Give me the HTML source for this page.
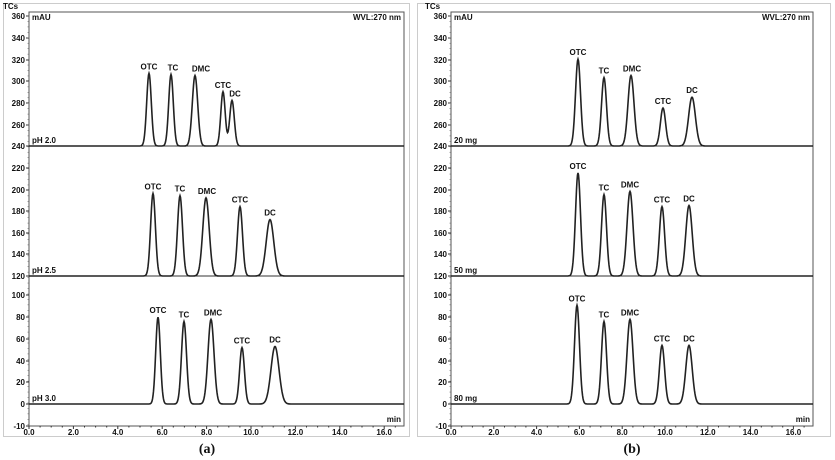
<!DOCTYPE html>
<html><head><meta charset="utf-8"><style>
html,body{margin:0;padding:0;background:#fff;width:835px;height:460px;overflow:hidden}
svg text{font-family:"Liberation Sans",sans-serif;font-weight:bold;fill:#111}
</style></head><body>
<svg id="s" width="835" height="460" xmlns="http://www.w3.org/2000/svg">
<rect x="3.5" y="3.5" width="406" height="433" fill="none" stroke="#ccc"/>
<rect x="417.5" y="3.5" width="413" height="433" fill="none" stroke="#ccc"/>
<g id="g"></g>
<text x="207" y="453" font-size="14" font-family="Liberation Serif" text-anchor="middle" style="font-family:'Liberation Serif',serif">(a)</text>
<text x="632" y="453" font-size="14" text-anchor="middle" style="font-family:'Liberation Serif',serif">(b)</text>
</svg>
<script>
const g=document.getElementById('g');let h='';
function Y(v){return 404-v*1.085;}
function panel(L,R,px,labels,peaks,tag){
  const top=12,bot=426;
  h+=`<rect x="${L}" y="${top}" width="${R-L}" height="${bot-top}" fill="none" stroke="#555" stroke-width="1"/>`;
  h+=`<line x1="${L}" y1="146" x2="${R}" y2="146" stroke="#333"/><line x1="${L}" y1="276" x2="${R}" y2="276" stroke="#333"/>`;
  h+=`<text x="${L-26}" y="9" font-size="8">TCs</text><text x="${L+3}" y="20" font-size="8">mAU</text>`;
  h+=`<text x="${R-3}" y="20" font-size="8" text-anchor="end">WVL:270 nm</text>`;
  h+=`<text x="${R-3}" y="422" font-size="8" text-anchor="end">min</text>`;
  // y ticks
  const yt=[[360,16],[340,38],[320,60],[300,81],[280,103],[260,125],[240,146],[220,168],[200,190],[180,211],[160,233],[140,254],[120,276],[100,295],[80,317],[60,339],[40,361],[20,382],[0,404],[-10,426]];
  for(const [v,y] of yt){h+=`<line x1="${L-3}" y1="${y}" x2="${L}" y2="${y}" stroke="#333"/><text x="${L-4}" y="${y+3}" font-size="8" text-anchor="end">${v}</text>`;}
  for(let y=16;y<426;y+=5.45){h+=`<line x1="${L-1.5}" y1="${y}" x2="${L}" y2="${y}" stroke="#666" stroke-width=".6"/>`;}
  for(let m=0;m<=16.9;m+=0.5){const x=L+m*px;const big=Math.abs(m%2)<0.01;h+=`<line x1="${x}" y1="${bot}" x2="${x}" y2="${bot+(big?3:1.5)}" stroke="#333"/>`;
    if(big)h+=`<text x="${x}" y="435" font-size="8" text-anchor="middle">${m.toFixed(1)}</text>`;}
  peaks.forEach((p,i)=>{
    const base=p.base, by=p.by, sc=p.sc;
    h+=`<text x="${L+3}" y="${by-3}" font-size="8">${tag[i]}</text>`;
    let d='';
    for(let x=L;x<=R;x+=0.5){let v=0;for(const q of p.q){const s=q[2];v+=q[1]*Math.exp(-((x-q[0])**2)/(2*s*s));}
      const y=by-v*sc;d+=(x==L?'M':'L')+x.toFixed(1)+','+y.toFixed(1);}
    h+=`<path d="${d}" fill="none" stroke="#222" stroke-width="1.6"/>`;
    for(const q of p.q){h+=`<text x="${q[0]+(q[3]||0)}" y="${by-q[1]*sc-4}" font-size="8" text-anchor="middle">${q[4]}</text>`;}
  });
  g.innerHTML=h;
}
const sc=1.085;
panel(29,404,22.2,null,[
 {by:146,sc,q:[[149,67,2.3,0,'OTC'],[171,66,2.3,2,'TC'],[195,65,2.7,6,'DMC'],[223,50,2.2,0,'CTC'],[232,42,2.3,3,'DC']]},
 {by:276,sc,q:[[153,76,2.4,0,'OTC'],[180,74,2.5,0,'TC'],[206,72,3.2,1,'DMC'],[240,64,2.5,0,'CTC'],[270,52,3.8,0,'DC']]},
 {by:404,sc,q:[[158,80,2.3,0,'OTC'],[184,76,2.5,0,'TC'],[211,78,3,2,'DMC'],[242,52,2.4,0,'CTC'],[275,53,4,0,'DC']]}
],['pH 2.0','pH 2.5','pH 3.0']);
panel(451,813,21.4,null,[
 {by:146,sc,q:[[578,80,2.5,0,'OTC'],[604,63,2.5,0,'TC'],[631,65,3,1,'DMC'],[663,35,2.6,0,'CTC'],[692,45,3.4,0,'DC']]},
 {by:276,sc,q:[[578,95,2.5,0,'OTC'],[604,75,2.5,0,'TC'],[630,78,3,0,'DMC'],[662,64,2.6,0,'CTC'],[689,65,3.2,0,'DC']]},
 {by:404,sc,q:[[577,91,2.5,0,'OTC'],[604,76,2.5,0,'TC'],[630,78,3,0,'DMC'],[662,54,2.6,0,'CTC'],[689,54,3.2,0,'DC']]}
],['20 mg','50 mg','80 mg']);
</script>
</body></html>
